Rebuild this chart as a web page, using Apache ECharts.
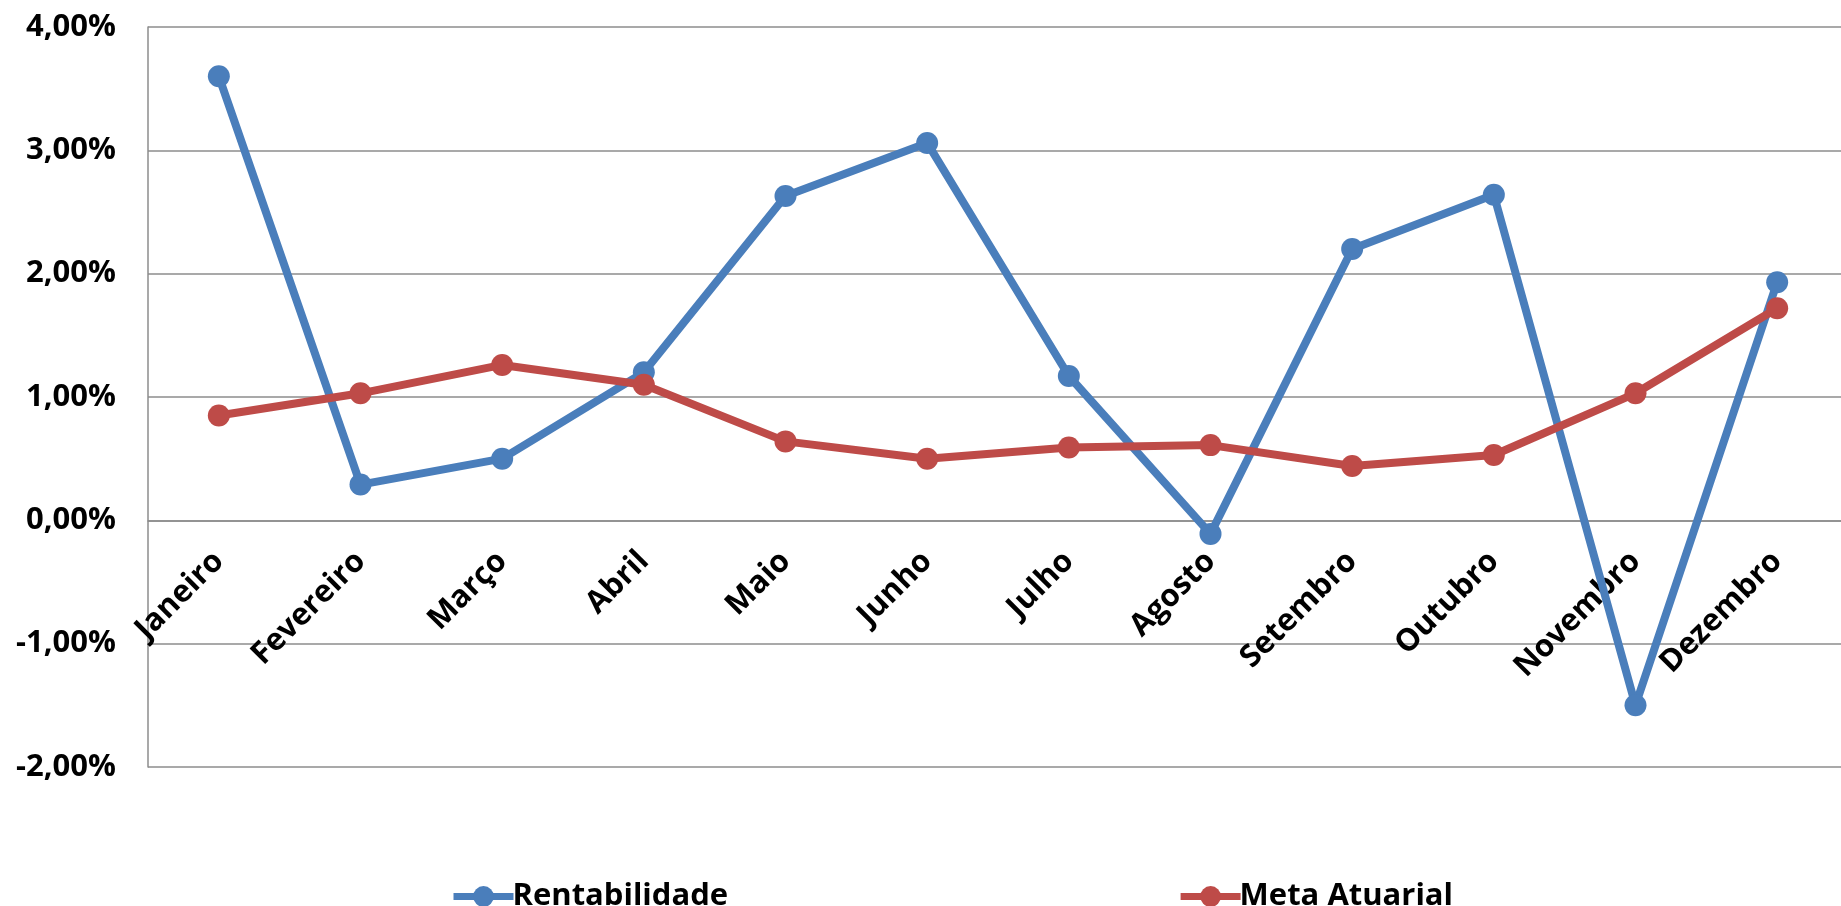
<!DOCTYPE html>
<html>
<head>
<meta charset="utf-8">
<script src="https://cdn.jsdelivr.net/npm/echarts@6/dist/echarts.min.js"></script>
<style>
  html, body { margin: 0; padding: 0; background: #fff; }
  #chart { width: 1841px; height: 906px; }
</style>
</head>
<body>
<div id="chart"></div>
<script>
const months = ['Janeiro', 'Fevereiro', 'Março', 'Abril', 'Maio', 'Junho',
  'Julho', 'Agosto', 'Setembro', 'Outubro', 'Novembro', 'Dezembro'];
const rentabilidade = [3.60, 0.29, 0.50, 1.20, 2.63, 3.06, 1.17, -0.11, 2.20, 2.64, -1.50, 1.93];
const metaAtuarial = [0.85, 1.03, 1.26, 1.10, 0.64, 0.50, 0.59, 0.61, 0.44, 0.53, 1.03, 1.72];
const yTicks = [-2, -1, 0, 1, 2, 3, 4];

const font = '"Open Sans", sans-serif';
const blue = '#4a7ebb';
const red = '#be4b48';
const gridGrey = '#8c8c8c';

// plot area in px, the category labels sit on the 0% line
const gridTop = 27;
const gridBottom = 139;
const plotHeight = 906 - gridTop - gridBottom;
const zeroOffset = -plotHeight * (0 - yTicks[0]) / (yTicks[yTicks.length - 1] - yTicks[0]);

const chart = echarts.init(document.getElementById('chart'));

chart.setOption({
  animation: false,
  backgroundColor: '#fff',
  textStyle: { fontFamily: font, fontWeight: 'bold', color: '#000' },
  grid: {
    left: 148, right: -7, top: gridTop, bottom: gridBottom,
    containLabel: false, outerBoundsMode: 'none',
  },
  legend: {
    left: 445,
    top: 876,
    itemGap: 449,
    itemWidth: 60,
    itemHeight: 26,
    lineStyle: { width: 7 },
    textStyle: { fontFamily: font, fontWeight: 'bold', fontSize: 31, color: '#000', padding: [0, 0, 0, -6] },
    data: ['Rentabilidade', 'Meta Atuarial'],
  },
  xAxis: {
    type: 'category',
    data: months,
    boundaryGap: true,
    offset: zeroOffset,
    axisLine: { onZero: false, lineStyle: { color: gridGrey, width: 1.5 } },
    axisTick: { show: false },
    axisLabel: {
      rotate: 45,
      margin: 36,
      interval: 0,
      fontFamily: font,
      fontWeight: 'bold',
      fontSize: 31,
      color: '#000',
    },
  },
  yAxis: {
    type: 'value',
    min: yTicks[0],
    max: yTicks[yTicks.length - 1],
    interval: 1,
    axisLine: { show: true, lineStyle: { color: gridGrey, width: 1.5 } },
    axisTick: { show: false },
    splitLine: { lineStyle: { color: gridGrey, width: 1.5 } },
    axisLabel: {
      margin: 32,
      fontFamily: font,
      fontWeight: 'bold',
      fontSize: 31,
      color: '#000',
      formatter: (v) => v.toFixed(2).replace('.', ',') + '%',
    },
  },
  series: [
    {
      name: 'Rentabilidade',
      type: 'line',
      data: rentabilidade,
      symbol: 'circle',
      symbolSize: 22,
      z: 3,
      lineStyle: { color: blue, width: 8 },
      itemStyle: { color: blue },
    },
    {
      name: 'Meta Atuarial',
      type: 'line',
      data: metaAtuarial,
      symbol: 'circle',
      symbolSize: 22,
      z: 4,
      lineStyle: { color: red, width: 8 },
      itemStyle: { color: red },
    },
  ],
});
</script>
</body>
</html>
